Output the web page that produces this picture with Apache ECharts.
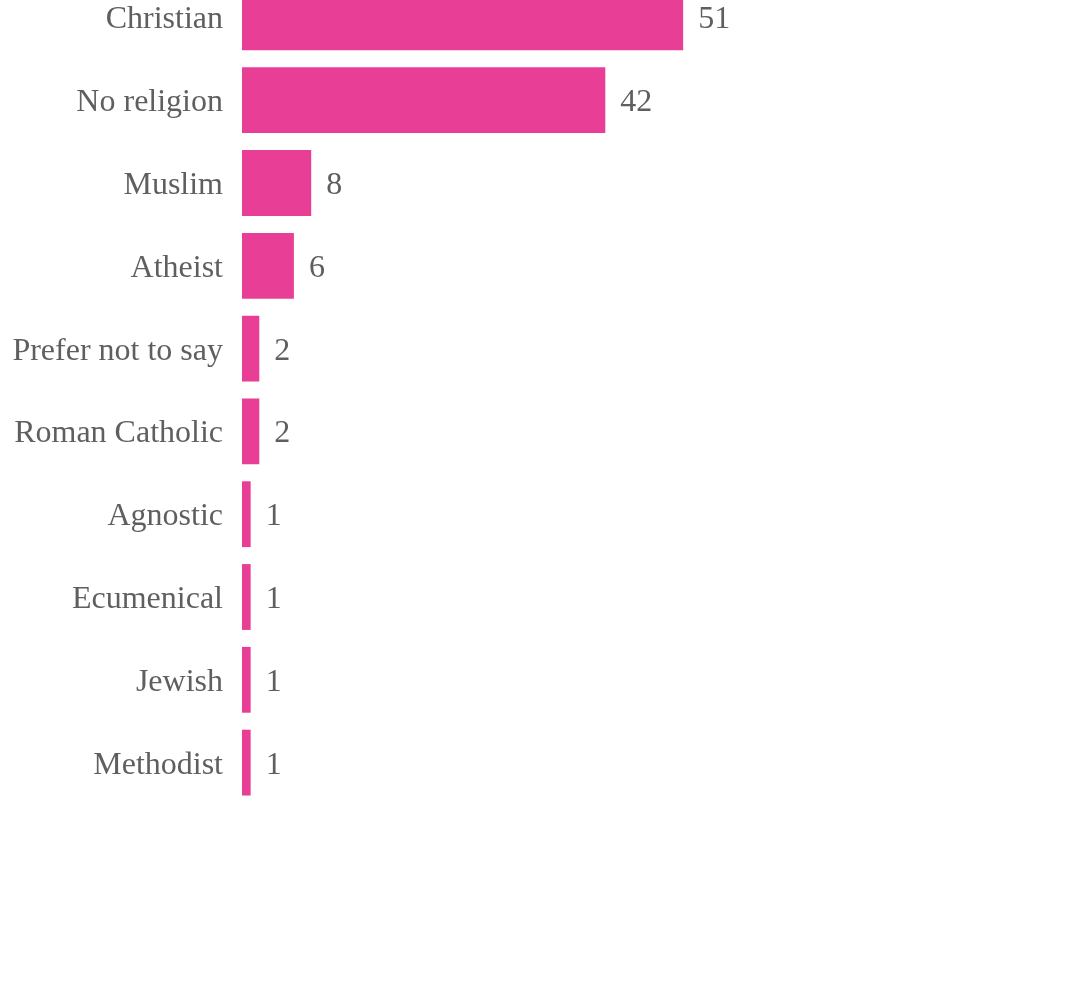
<!DOCTYPE html>
<html>
<head>
<meta charset="utf-8">
<script src="https://cdn.jsdelivr.net/npm/echarts@6/dist/echarts.min.js"></script>
<style>
  html, body { margin: 0; padding: 0; background: #ffffff; overflow: hidden; }
  /* the plot starts slightly above the visible page edge */
  #chart { position: absolute; left: 0; top: -24px; width: 1077px; height: 1007px; }
</style>
</head>
<body>
<div id="chart"></div>
<script>
// Religion responses, listed top to bottom
const categories = [
  'Christian', 'No religion', 'Muslim', 'Atheist', 'Prefer not to say',
  'Roman Catholic', 'Agnostic', 'Ecumenical', 'Jewish', 'Methodist'
];
const counts = [51, 42, 8, 6, 2, 2, 1, 1, 1, 1];

const textColor = '#5f5f5f';
const barColor = '#E83E96';
const fontFamily = '"Liberation Serif", "Times New Roman", serif';

// text style shared by category names and value labels, nudged a little downward
const labelRich = {
  t: {
    color: textColor,
    fontFamily: fontFamily,
    fontSize: 32,
    padding: [5, 0, 0, 0]
  }
};

const chart = echarts.init(document.getElementById('chart'), null, { renderer: 'canvas' });
chart.setOption({
  animation: false,
  backgroundColor: '#ffffff',
  grid: { left: 242, top: 0, width: 519, height: 828, containLabel: false },
  xAxis: {
    type: 'value',
    min: 0,
    max: 60,
    show: false
  },
  yAxis: {
    type: 'category',
    data: categories,
    inverse: true,
    axisLine: { show: false },
    axisTick: { show: false },
    splitLine: { show: false },
    axisLabel: {
      formatter: '{t|{value}}',
      rich: labelRich,
      color: textColor,
      fontFamily: fontFamily,
      fontSize: 32,
      margin: 19
    }
  },
  series: [{
    type: 'bar',
    data: counts,
    barCategoryGap: '20.5%',
    itemStyle: { color: barColor },
    label: {
      show: true,
      position: 'right',
      distance: 15,
      formatter: '{t|{c}}',
      rich: labelRich,
      color: textColor,
      fontFamily: fontFamily,
      fontSize: 32
    }
  }]
});
</script>
</body>
</html>
